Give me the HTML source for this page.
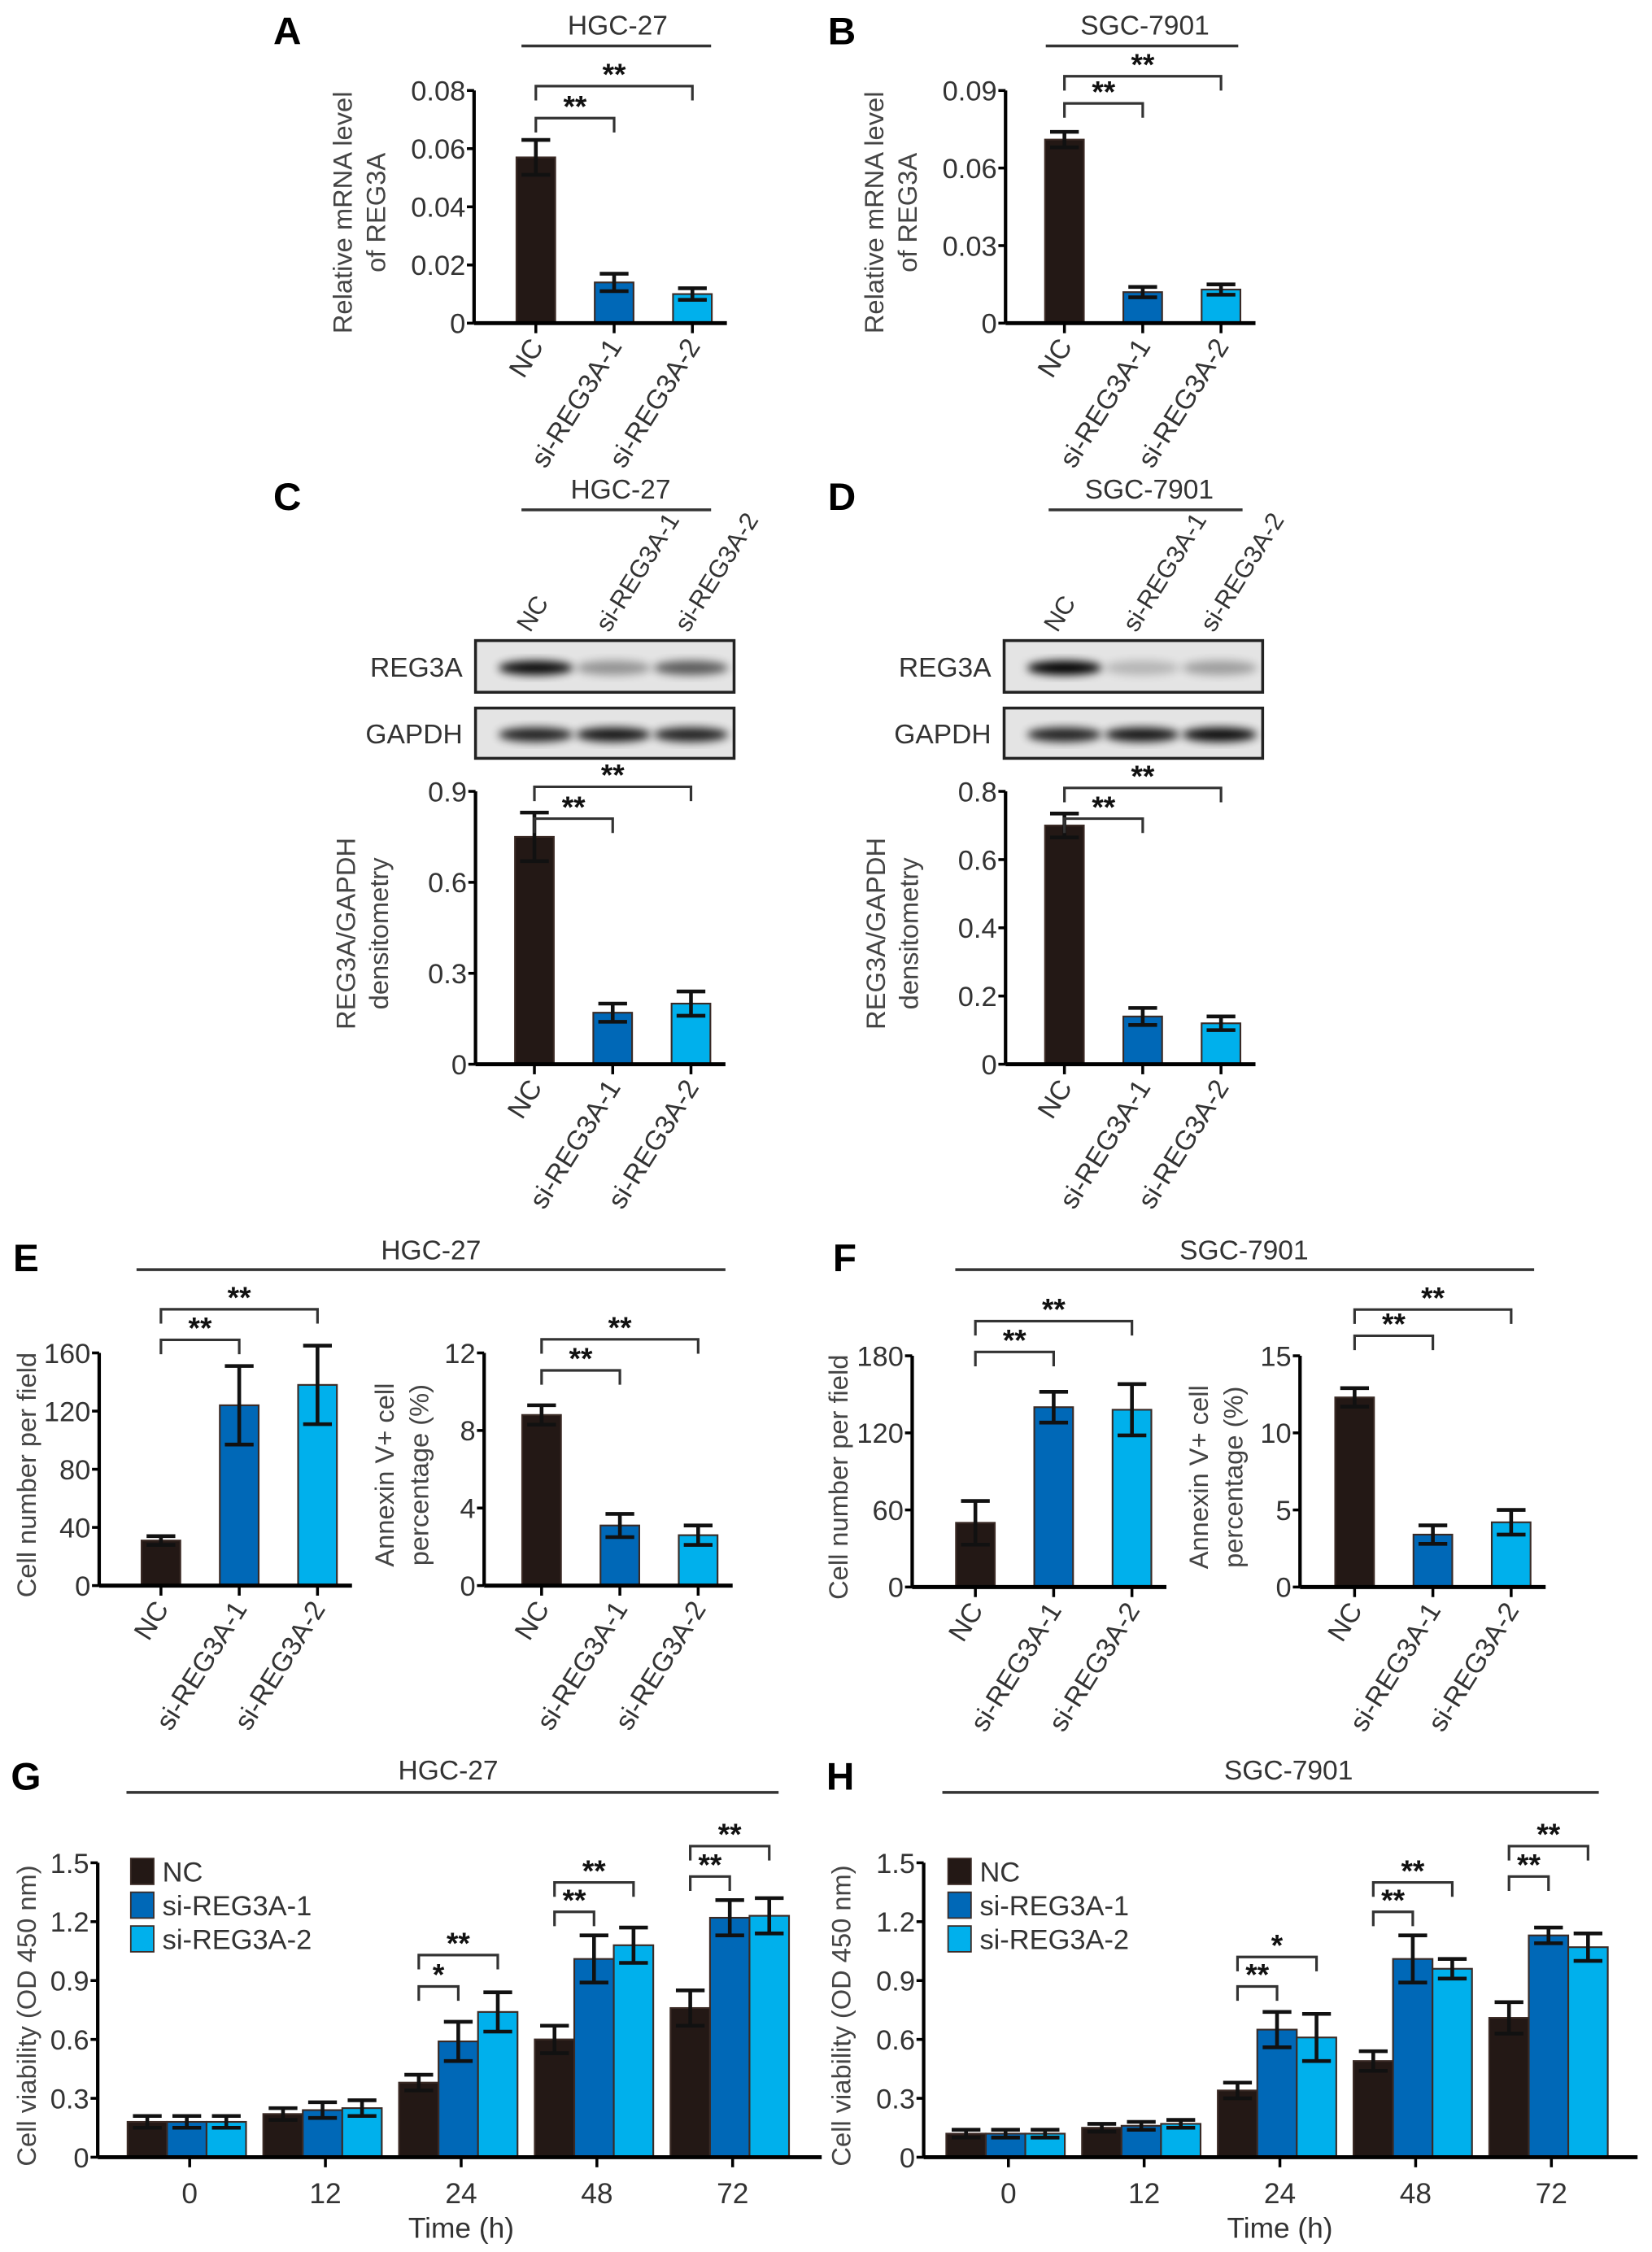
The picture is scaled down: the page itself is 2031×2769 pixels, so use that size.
<!DOCTYPE html>
<html><head><meta charset="utf-8"><style>
html,body{margin:0;padding:0;background:#fff;}
svg{display:block;}
text{font-family:"Liberation Sans",Arial,sans-serif;}
</style></head><body>
<svg id="fig" width="2031" height="2769" viewBox="0 0 1150 1568" xmlns="http://www.w3.org/2000/svg">
<defs>
<filter id="blur" x="-20%" y="-50%" width="140%" height="200%"><feGaussianBlur stdDeviation="3"/></filter>
</defs>
</svg>
<script>
// ===== Data =====
const groups3 = ["NC", "si-REG3A-1", "si-REG3A-2"];
const colors3 = ["#231815", "#0068b7", "#00b0ec"];

const aValues = [0.057, 0.014, 0.010];
const aErrors = [0.006, 0.003, 0.002];
const aTicks = ["0", "0.02", "0.04", "0.06", "0.08"];
const aTickVals = [0, 0.02, 0.04, 0.06, 0.08];
const aBrackets = [0.0705, 0.0815];

const bValues = [0.071, 0.012, 0.013];
const bErrors = [0.003, 0.002, 0.002];
const bTicks = ["0", "0.03", "0.06", "0.09"];
const bTickVals = [0, 0.03, 0.06, 0.09];
const bBrackets = [0.085, 0.0955];

const cValues = [0.75, 0.17, 0.20];
const cErrors = [0.08, 0.03, 0.04];
const cTicks = ["0", "0.3", "0.6", "0.9"];
const cTickVals = [0, 0.3, 0.6, 0.9];
const cBrackets = [0.81, 0.915];

const dValues = [0.70, 0.14, 0.12];
const dErrors = [0.035, 0.025, 0.02];
const dTicks = ["0", "0.2", "0.4", "0.6", "0.8"];
const dTickVals = [0, 0.2, 0.4, 0.6, 0.8];
const dBrackets = [0.72, 0.81];

const e1Values = [31, 124, 138];
const e1Errors = [3, 27, 27];
const e1Ticks = ["0", "40", "80", "120", "160"];
const e1TickVals = [0, 40, 80, 120, 160];
const e1Brackets = [169, 190];

const e2Values = [8.8, 3.1, 2.6];
const e2Errors = [0.5, 0.6, 0.5];
const e2Ticks = ["0", "4", "8", "12"];
const e2TickVals = [0, 4, 8, 12];
const e2Brackets = [11.1, 12.7];

const f1Values = [50, 140, 138];
const f1Errors = [17, 12, 20];
const f1Ticks = ["0", "60", "120", "180"];
const f1TickVals = [0, 60, 120, 180];
const f1Brackets = [183, 207];

const f2Values = [12.3, 3.4, 4.2];
const f2Errors = [0.6, 0.6, 0.8];
const f2Ticks = ["0", "5", "10", "15"];
const f2TickVals = [0, 5, 10, 15];
const f2Brackets = [16.3, 18.0];

const timeLabels = ["0", "12", "24", "48", "72"];
const vTicks = ["0", "0.3", "0.6", "0.9", "1.2", "1.5"];
const vTickVals = [0, 0.3, 0.6, 0.9, 1.2, 1.5];
const gNC  = [0.18, 0.22, 0.38, 0.60, 0.76];
const gS1  = [0.18, 0.24, 0.59, 1.01, 1.22];
const gS2  = [0.18, 0.25, 0.74, 1.08, 1.23];
const gNCe = [0.03, 0.03, 0.04, 0.07, 0.09];
const gS1e = [0.03, 0.04, 0.10, 0.12, 0.09];
const gS2e = [0.03, 0.04, 0.10, 0.09, 0.09];
const gInner = [null, null, 0.87, 1.25, 1.43];
const gOuter = [null, null, 1.03, 1.40, 1.585];
const gInnerStars = ["", "", "*", "**", "**"];
const gOuterStars = ["", "", "**", "**", "**"];

const hNC  = [0.12, 0.15, 0.34, 0.49, 0.71];
const hS1  = [0.12, 0.16, 0.65, 1.01, 1.13];
const hS2  = [0.12, 0.17, 0.61, 0.96, 1.07];
const hNCe = [0.02, 0.02, 0.04, 0.05, 0.08];
const hS1e = [0.02, 0.02, 0.09, 0.12, 0.04];
const hS2e = [0.02, 0.02, 0.12, 0.05, 0.07];
const hInner = [null, null, 0.87, 1.25, 1.43];
const hOuter = [null, null, 1.02, 1.40, 1.585];
const hInnerStars = ["", "", "**", "**", "**"];
const hOuterStars = ["", "", "*", "**", "**"];

// ===== Helpers =====
const svg = document.getElementById('fig');
const NS = "http://www.w3.org/2000/svg";
function mk(tag, attrs, parent) {
  const e = document.createElementNS(NS, tag);
  for (const k in attrs) e.setAttribute(k, attrs[k]);
  (parent || svg).appendChild(e);
  return e;
}
function txt(x, y, s, size, anchor, parent, extra) {
  const t = mk('text', Object.assign({x: x, y: y, 'font-size': size, 'text-anchor': anchor || 'middle', fill: '#333'}, extra || {}), parent);
  t.textContent = s;
  return t;
}
function header(letter, lx, ly, title, tx, ty, x1, x2, lineY) {
  const l = txt(lx, ly, letter, 27, 'middle', svg, {'font-weight': 'bold', fill: '#000'});
  
  
  const h = txt(tx, ty, title, 19, 'middle');
  
  
  const ln = mk('line', {x1: x1, x2: x2, y1: lineY, y2: lineY, stroke: '#333', 'stroke-width': 2});
  
  
}
function yAxis(g, ax, y0, yTop, vmax, ticks, tickVals) {
  const sc = v => y0 - (v / vmax) * (y0 - yTop);
  const a = mk('line', {x1: ax, x2: ax, y1: y0, y2: yTop, stroke: '#000', 'stroke-width': 2.4}, g);
  
  
  tickVals.forEach((v, i) => {
    mk('line', {x1: ax - 5, x2: ax, y1: sc(v), y2: sc(v), stroke: '#000', 'stroke-width': 2}, g);
    const t = txt(ax - 6, sc(v) + 7, ticks[i], 19.5, 'end', g);
    
    
  });
  return sc;
}
function yTitle(g, lines, xs, cy) {
  lines.forEach((s, i) => {
    const t = txt(0, 0, s, 18.5, 'middle', g, {transform: 'translate(' + xs[i] + ',' + cy + ') rotate(-90)', fill: '#444'});
    
    
  });
}
function bracket(g, xa, xb, y, stars, size) {
  const p = mk('path', {d: 'M' + xa + ',' + (y + 10) + ' V' + y + ' H' + xb + ' V' + (y + 10), fill: 'none', stroke: '#333', 'stroke-width': 1.8}, g);
  
  
  const t = txt((xa + xb) / 2, y - 1, stars, size || 21, 'middle', g, {'font-weight': 'bold', fill: '#111'});
  
  
}
function bar(g, cx, w, y0, yv, color, name) {
  const r = mk('rect', {x: cx - w / 2, y: Math.min(yv, y0), width: w, height: Math.abs(y0 - yv), fill: color, stroke: '#3a2a25', 'stroke-width': 1.2}, g);
  
  
}
function err(g, cx, yHi, yLo, capW) {
  const p = mk('path', {d: 'M' + (cx - capW) + ',' + yHi + ' H' + (cx + capW) + ' M' + cx + ',' + yHi + ' V' + yLo + ' M' + (cx - capW) + ',' + yLo + ' H' + (cx + capW), stroke: '#111', 'stroke-width': 2.6, fill: 'none'}, g);
  
  
}

function chart3(name, ax, y0, yTop, vmax, vals, errs, ticks, tickVals, brk, titleLines, titleXs, bar0) {
  const g = mk('g', {});
  
  
  const sc = yAxis(g, ax, y0, yTop, vmax, ticks, tickVals);
  const step = 54.5, w = 27;
  const cxs = groups3.map((_, i) => bar0 + i * step);
  groups3.forEach((gname, i) => {
    bar(g, cxs[i], w, y0, sc(vals[i]), colors3[i], 'bar-' + gname.toLowerCase());
    err(g, cxs[i], sc(vals[i] + errs[i]), sc(vals[i] - errs[i]), 10);
  });
  const xa = mk('line', {x1: ax, x2: bar0 + 2 * step + 24, y1: y0, y2: y0, stroke: '#000', 'stroke-width': 2.8}, g);
  
  
  groups3.forEach((gname, i) => {
    mk('line', {x1: cxs[i], x2: cxs[i], y1: y0, y2: y0 + 7, stroke: '#000', 'stroke-width': 2}, g);
    const t = txt(0, 0, gname, 19, 'end', g, {transform: 'translate(' + (cxs[i] + 6) + ',' + (y0 + 16) + ') rotate(-58)'});
    
    
  });
  bracket(g, cxs[0], cxs[1], sc(brk[0]), '**');
  bracket(g, cxs[0], cxs[2], sc(brk[1]), '**');
  yTitle(g, titleLines, titleXs, (y0 + yTop) / 2 + 4);
}

function blot(name, x, y, h, lanes, intensities, label, labelX) {
  const g = mk('g', {});
  
  
  mk('rect', {x: x, y: y, width: 180, height: h, fill: '#e4e4e4'}, g);
  lanes.forEach((lx, i) => {
    mk('ellipse', {cx: lx, cy: y + h / 2 + 1, rx: 26, ry: 5, fill: '#000', opacity: intensities[i], filter: 'url(#blur)'}, g);
  });
  mk('rect', {x: x, y: y, width: 180, height: h, fill: 'none', stroke: '#222', 'stroke-width': 2}, g);
  const t = txt(labelX, y + h / 2 + 7, label, 19, 'end', g);
  
  
}
function laneLabels(xs, y) {
  groups3.forEach((s, i) => {
    const t = txt(0, 0, s, 17.5, 'start', svg, {transform: 'translate(' + (xs[i] - 6) + ',' + y + ') rotate(-58)'});
    
    
  });
}

function timeChart(name, ax, y0, yTop, c0, nc, s1, s2, nce, s1e, s2e, inner, outer, innerS, outerS, xEnd, legX, titleX) {
  const g = mk('g', {});
  
  
  const sc = yAxis(g, ax, y0, yTop, 1.5, vTicks, vTickVals);
  const step = 94.5, w = 27.5;
  const series = [nc, s1, s2], errsA = [nce, s1e, s2e];
  timeLabels.forEach((lab, gi) => {
    const c = c0 + gi * step;
    series.forEach((s, si) => {
      const cx = c + (si - 1) * w;
      bar(g, cx, w, y0, sc(s[gi]), colors3[si], 'bar-' + groups3[si].toLowerCase() + '-' + lab + 'h');
      err(g, cx, sc(s[gi] + errsA[si][gi]), sc(s[gi] - errsA[si][gi]), 10);
    });
    if (inner[gi] !== null) {
      bracket(g, c - w, c, sc(inner[gi]), innerS[gi]);
      bracket(g, c - w, c + w, sc(outer[gi]), outerS[gi]);
    }
  });
  const xa = mk('line', {x1: ax, x2: xEnd, y1: y0, y2: y0, stroke: '#000', 'stroke-width': 2.8}, g);
  
  
  timeLabels.forEach((lab, gi) => {
    const c = c0 + gi * step + 2;
    mk('line', {x1: c, x2: c, y1: y0, y2: y0 + 7, stroke: '#000', 'stroke-width': 2}, g);
    const t = txt(c, y0 + 32, lab, 20, 'middle', g);
    
    
  });
  const xt = txt(c0 + 2 * step + 2, y0 + 56, 'Time (h)', 20, 'middle', g);
  
  
  yTitle(g, ['Cell viability (OD 450 nm)'], [titleX], (y0 + yTop) / 2 + 4);
  groups3.forEach((s, i) => {
    const ly = 1302 + i * 23.5;
    const sw = mk('rect', {x: legX, y: ly - 8, width: 16, height: 18, fill: colors3[i], stroke: '#3a2a25', 'stroke-width': 1}, g);
    
    
    const t = txt(legX + 22, ly + 8, s, 19.5, 'start', g);
    
    
  });
}

// ===== Panels A, B =====
header('A', 200, 31, 'HGC-27', 430, 24, 363, 495, 32);
chart3('chart-a', 330, 225, 63, 0.08, aValues, aErrors, aTicks, aTickVals, aBrackets, ['Relative mRNA level', 'of REG3A'], [245, 268], 373);
header('B', 586, 31, 'SGC-7901', 797, 24, 728, 862, 32);
chart3('chart-b', 700, 225, 63, 0.09, bValues, bErrors, bTicks, bTickVals, bBrackets, ['Relative mRNA level', 'of REG3A'], [615, 638], 741);

// ===== Panels C, D =====
header('C', 200, 355, 'HGC-27', 432, 347, 363, 495, 355);
laneLabels([375, 430, 485], 441);
blot('blot-c-reg3a', 331, 446, 36, [373, 427, 481], [0.95, 0.35, 0.6], 'REG3A', 322);
blot('blot-c-gapdh', 331, 493, 35, [373, 427, 481], [0.85, 0.9, 0.85], 'GAPDH', 322);
chart3('chart-c', 331, 741, 551, 0.9, cValues, cErrors, cTicks, cTickVals, cBrackets, ['REG3A/GAPDH', 'densitometry'], [247, 270], 372);

header('D', 586, 355, 'SGC-7901', 800, 347, 730, 865, 355);
laneLabels([742, 797, 851], 441);
blot('blot-d-reg3a', 699, 446, 36, [741, 795, 849], [1.0, 0.2, 0.3], 'REG3A', 690);
blot('blot-d-gapdh', 699, 493, 35, [741, 795, 849], [0.85, 0.9, 0.95], 'GAPDH', 690);
chart3('chart-d', 700, 741, 551, 0.8, dValues, dErrors, dTicks, dTickVals, dBrackets, ['REG3A/GAPDH', 'densitometry'], [616, 639], 741);

// ===== Panels E, F =====
header('E', 18, 885, 'HGC-27', 300, 877, 95, 505, 884);
chart3('chart-e-cells', 69, 1104, 942, 160, e1Values, e1Errors, e1Ticks, e1TickVals, e1Brackets, ['Cell number per field'], [25], 112);
chart3('chart-e-annexin', 337, 1104, 942, 12, e2Values, e2Errors, e2Ticks, e2TickVals, e2Brackets, ['Annexin V+ cell', 'percentage (%)'], [274, 298], 377);
header('F', 588, 885, 'SGC-7901', 866, 877, 665, 1068, 884);
chart3('chart-f-cells', 635, 1105, 944, 180, f1Values, f1Errors, f1Ticks, f1TickVals, f1Brackets, ['Cell number per field'], [590], 679);
chart3('chart-f-annexin', 905, 1105, 944, 15, f2Values, f2Errors, f2Ticks, f2TickVals, f2Brackets, ['Annexin V+ cell', 'percentage (%)'], [841, 865], 943);

// ===== Panels G, H =====
header('G', 18, 1246, 'HGC-27', 312, 1239, 88, 542, 1248);
timeChart('chart-g', 68, 1502, 1297, 130, gNC, gS1, gS2, gNCe, gS1e, gS2e, gInner, gOuter, gInnerStars, gOuterStars, 572, 91, 25);
header('H', 585, 1246, 'SGC-7901', 897, 1239, 656, 1113, 1248);
timeChart('chart-h', 643, 1502, 1297, 700, hNC, hS1, hS2, hNCe, hS1e, hS2e, hInner, hOuter, hInnerStars, hOuterStars, 1140, 660, 592);
</script>
</body></html>
